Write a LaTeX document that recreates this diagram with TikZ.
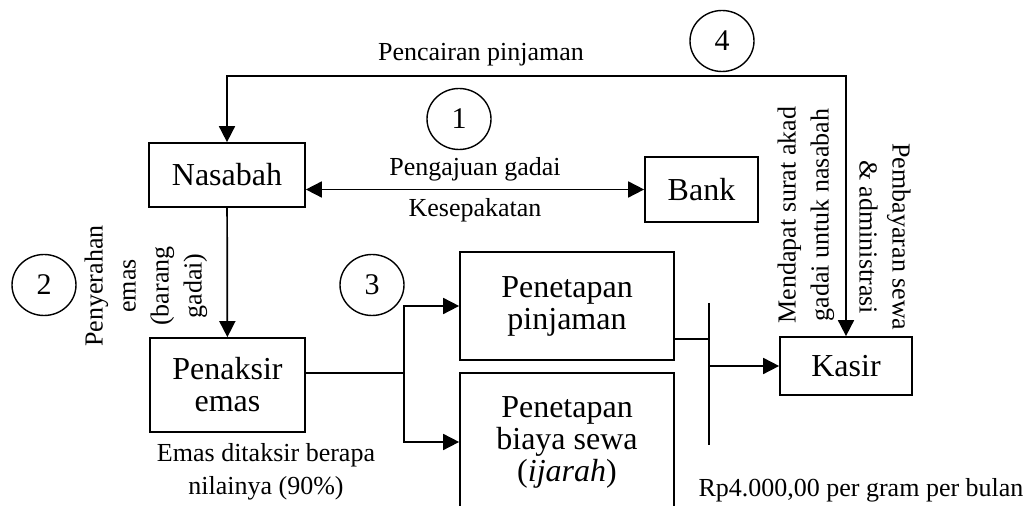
\documentclass[tikz,border=0pt]{standalone}
\usepackage{fontspec}
\setmainfont{Liberation Serif}
\usetikzlibrary{arrows.meta, shapes.geometric}

\begin{document}
\begin{tikzpicture}[x=0.5pt, y=-0.5pt, line width=0.85pt,
    >={Triangle[length=8pt, width=8pt]},
    process/.style = {rectangle, draw, inner sep=0pt, align=center, font=\fontsize{16}{16}\selectfont},
    marker/.style = {ellipse, draw, line width=0.7pt, minimum width=32pt, minimum height=30.5pt, inner sep=0pt, font=\fontsize{15}{16}\selectfont},
    caption/.style = {align=center, inner sep=1pt, font=\fontsize{13}{16.5}\selectfont}]
  \useasboundingbox (0, 0) rectangle (1034, 506);

  % Parties and process steps.
  \node at (227, 175) [process, minimum width=78pt, minimum height=32pt, name=Nasabah] {Nasabah};
  \node at (701.5, 189.5) [process, minimum width=56.5pt, minimum height=32.5pt, name=Bank] {Bank};
  \node at (227.5, 385) [process, minimum width=77.5pt, minimum height=47pt, name=Penaksir] {Penaksir\\emas};
  \node at (567, 306) [process, minimum width=107pt, minimum height=54pt, name=Pinjaman] {Penetapan\\pinjaman};
  \node at (567, 442) [process, minimum width=107pt, minimum height=69pt, name=Sewa] {Penetapan\\biaya sewa\\(\textit{ijarah})};
  \node at (846, 366) [process, minimum width=66pt, minimum height=29pt, name=Kasir] {Kasir};

  % Step numbers.
  \node at (459, 119) [marker, name=StepOne] {1};
  \node at (44, 285) [marker, name=StepTwo] {2};
  \node at (372, 285) [marker, name=StepThree] {3};
  \node at (722, 41) [marker, name=StepFour] {4};

  % Junction points.
  \coordinate (Loop) at (500, 76);
  \coordinate (Split) at (404, 373);
  \coordinate (BarTop) at (709, 303);
  \coordinate (BarJoin) at (709, 339);
  \coordinate (BarBottom) at (709, 445);

  % Application and agreement.
  \draw [<->] (Bank.west -| Nasabah.east)
              to node [caption, above, inner sep=4pt] {Pengajuan gadai}
                 node [caption, below, inner sep=4pt] {Kesepakatan}
              (Bank.west);

  % Handing over the gold.
  \draw [->] (Nasabah) to (Penaksir);
  \node at (146, 286) [caption, rotate=90, name=Penyerahan] {Penyerahan\\emas\\(barang\\gadai)};

  % Appraisal.
  \draw (Split -| Penaksir.east) -- (Split);
  \draw [<->] (Pinjaman.west) -| (Split) |- (Sewa.west);
  \node at (266, 472) [caption, name=Taksiran] {Emas ditaksir berapa\\nilainya (90\%)};

  % Cashier.
  \draw (BarTop) -- (BarBottom);
  \draw (BarJoin -| Pinjaman.east) -- (BarJoin);
  \draw [->] (BarTop |- Kasir.west) -- (Kasir.west);
  \node at (861, 490) [caption, name=Tarif] {Rp4.000,00 per gram per bulan};

  % Disbursement.
  \draw [<->] (Nasabah.north) |- (Loop) -| (Kasir.north);
  \node at (481, 55) [caption, name=Pencairan] {Pencairan pinjaman};
  \node at (806, 215) [caption, rotate=90, name=SuratAkad] {Mendapat surat akad\\gadai untuk nasabah};
  \node at (885, 237) [caption, rotate=-90, name=Pembayaran] {Pembayaran sewa\\\& administrasi};
\end{tikzpicture}
\end{document}
